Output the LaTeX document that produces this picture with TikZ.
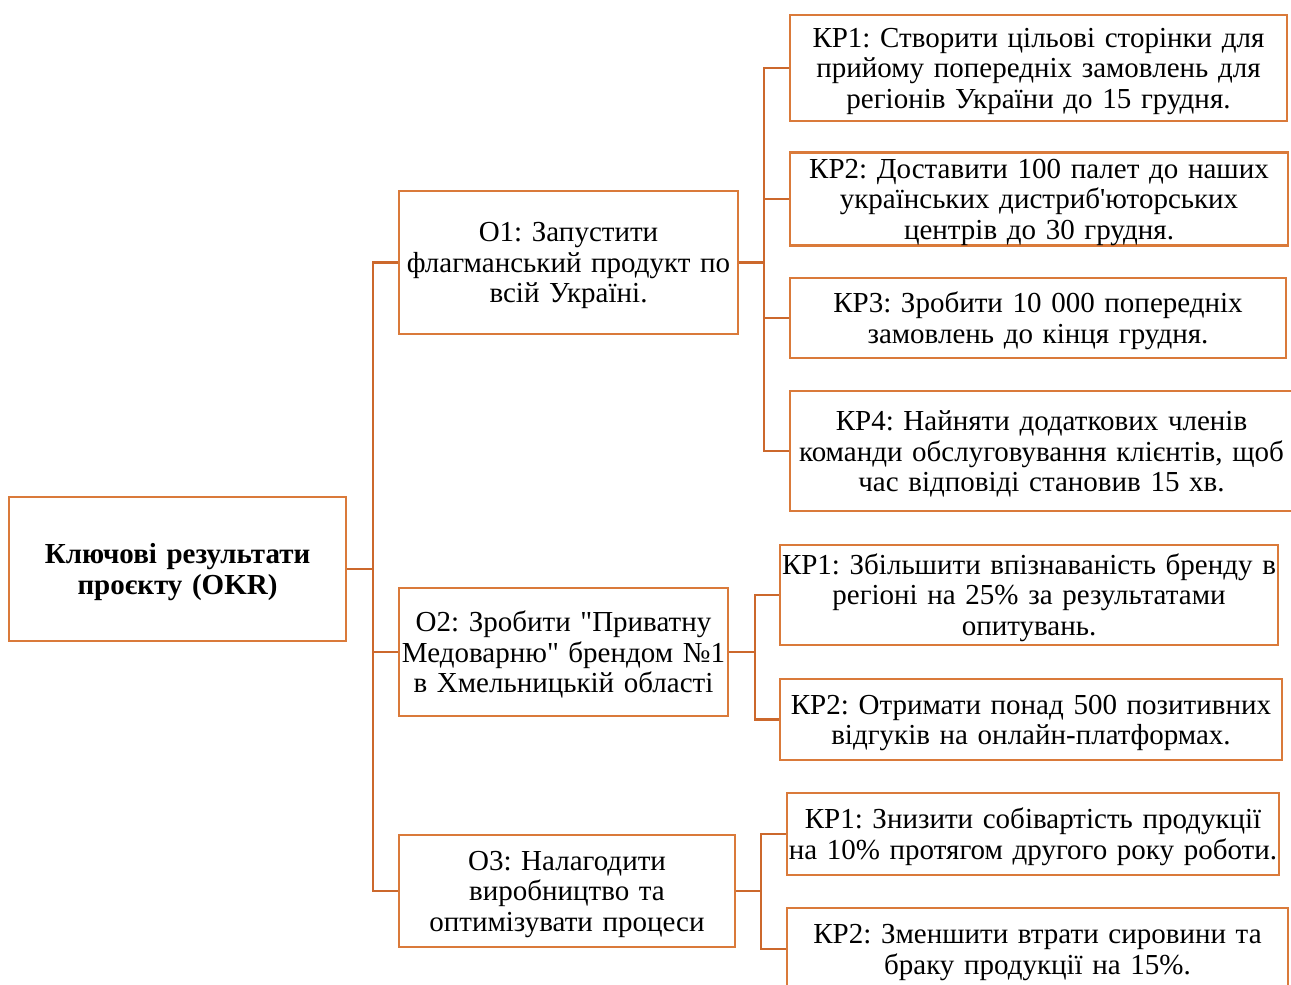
\documentclass[tikz,border=0pt]{standalone}
\usepackage{fontspec}
\setmainfont{Liberation Serif}[Ligatures=TeXOff]
\definecolor{boxc}{RGB}{218,122,58}
\definecolor{linec}{RGB}{204,104,44}
\newcommand\topst{\rule{0pt}{26pt}}
\begin{document}
\frenchspacing
\begin{tikzpicture}[x=1pt,y=-1pt,
  okr/.style={draw=boxc,line width=2.9pt,inner sep=0pt,align=center,
    font=\fontsize{29}{30.5}\selectfont\frenchspacing},
  conn/.style={draw=linec,line width=2.9pt}]
\useasboundingbox (0,0) rectangle (1291,985);
\begin{scope}
\clip (0,0) rectangle (1291,985);
% root
\node[okr,text width=337pt,minimum height=144pt,font=\fontsize{29}{30.5}\selectfont\bfseries\frenchspacing] (root) at (177.5,569) {\topst Ключові результати\\проєкту (OKR)};
% objectives
\node[okr,text width=339pt,minimum height=143pt] (o1) at (568.5,262.5) {\topst O1: Запустити\\флагманський продукт по\\всій Україні.};
\node[okr,text width=329pt,minimum height=128pt] (o2) at (563.5,652) {\topst O2: Зробити "Приватну\\Медоварню" брендом №1\\в Хмельницькій області};
\node[okr,text width=336pt,minimum height=112pt] (o3) at (567,891) {\topst O3: Налагодити\\виробництво та\\оптимізувати процеси};
% O1 key results
\node[okr,text width=497pt,minimum height=106pt] (k11) at (1038.5,68) {\topst КР1: Створити цільові сторінки для\\прийому попередніх замовлень для\\регіонів України до 15 грудня.};
\node[okr,text width=498pt,minimum height=90pt] (k12) at (1039,199) {\topst КР2: Доставити 100 палет до наших\\українських дистриб'юторських\\центрів до 30 грудня.};
\node[okr,text width=496pt,minimum height=80pt] (k13) at (1038,318) {\topst КР3: Зробити 10 000 попередніх\\замовлень до кінця грудня.};
\node[okr,text width=503pt,minimum height=120pt] (k14) at (1041.5,451) {\topst КР4: Найняти додаткових членів\\команди обслуговування клієнтів, щоб\\час відповіді становив 15 хв.};
% O2 key results
\node[okr,text width=498pt,minimum height=100pt] (k21) at (1029,595) {\topst КР1: Збільшити впізнаваність бренду в\\регіоні на 25\% за результатами\\опитувань.};
\node[okr,text width=502pt,minimum height=81pt] (k22) at (1031,719.5) {\topst КР2: Отримати понад 500 позитивних\\відгуків на онлайн-платформах.};
% O3 key results
\node[okr,text width=492pt,minimum height=82pt] (k31) at (1033,834) {\topst КР1: Знизити собівартість продукції\\на 10\% протягом другого року роботи.};
\node[okr,text width=501pt,minimum height=82pt] (k32) at (1037.5,949) {\topst КР2: Зменшити втрати сировини та\\браку продукції на 15\%.};
% junctions
\coordinate (j0) at (373,569);
\coordinate (j1) at (764,262.5);
\coordinate (j2) at (755,652);
\coordinate (j3) at (761,891);
\path[conn] (root.east) -- (j0);
\path[conn] (j0) |- (o1.west);
\path[conn] (j0) |- (o2.west);
\path[conn] (j0) |- (o3.west);
\path[conn] (o1.east) -- (j1);
\path[conn] (j1) |- (k11.west);
\path[conn] (j1) |- (k12.west);
\path[conn] (j1) |- (k13.west);
\path[conn] (j1) |- (k14.west);
\path[conn] (o2.east) -- (j2);
\path[conn] (j2) |- (k21.west);
\path[conn] (j2) |- (k22.west);
\path[conn] (o3.east) -- (j3);
\path[conn] (j3) |- (k31.west);
\path[conn] (j3) |- (k32.west);
\end{scope}
\end{tikzpicture}
\end{document}
